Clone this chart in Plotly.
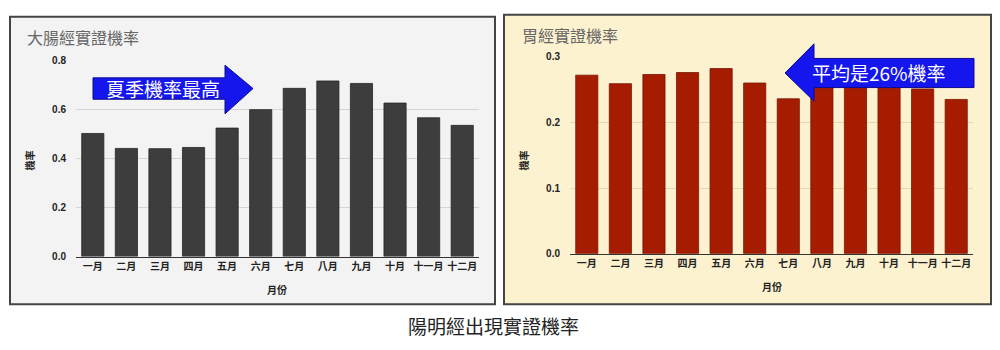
import plotly.graph_objects as go

months = ["一月", "二月", "三月", "四月", "五月", "六月", "七月", "八月", "九月", "十月", "十一月", "十二月"]
colon_rate = [0.502, 0.441, 0.440, 0.445, 0.524, 0.599, 0.686, 0.716, 0.706, 0.626, 0.566, 0.535]
stomach_rate = [0.272, 0.259, 0.273, 0.276, 0.282, 0.260, 0.236, 0.256, 0.262, 0.262, 0.251, 0.235]

left_title = "大腸經實證機率"
right_title = "胃經實證機率"
left_note = "夏季機率最高"
right_note = "平均是26%機率"
caption = "陽明經出現實證機率"
x_title = "月份"
y_title = "機率"

W, H = 1000, 350
FONT = "Liberation Sans, Arial, Noto Sans CJK TC, sans-serif"
CJK = "Noto Sans CJK TC, sans-serif"


def px(x):
    return x / W


def py(y):
    return 1 - y / H


def path(points):
    s = "M " + " L ".join(f"{px(x):.5f},{py(y):.5f}" for x, y in points) + " Z"
    return s


fig = go.Figure()
fig.add_trace(go.Bar(x=months, y=colon_rate, xaxis="x", yaxis="y",
                     marker=dict(color="#3d3d3d", line=dict(color="#262626", width=0.8)),
                     showlegend=False))
fig.add_trace(go.Bar(x=months, y=stomach_rate, xaxis="x2", yaxis="y2",
                     marker=dict(color="#a61c00", line=dict(color="#7a1400", width=0.8)),
                     showlegend=False))

tickfont = dict(family=FONT, size=10, color="#222222", weight="bold")

shapes = [
    # panel backgrounds
    dict(type="rect", xref="paper", yref="paper", x0=px(10), x1=px(495), y0=py(308), y1=py(12),
         fillcolor="#f3f3f3", line=dict(color="#444444", width=2), layer="below"),
    dict(type="rect", xref="paper", yref="paper", x0=px(504), x1=px(991), y0=py(308), y1=py(10),
         fillcolor="#fdf2d0", line=dict(color="#444444", width=2), layer="below"),
    # arrows
    dict(type="path", xref="paper", yref="paper",
         path=path([(93, 75), (225, 75), (225, 62), (253, 86), (225, 112), (225, 97), (93, 97)]),
         fillcolor="#1515ee", line=dict(color="#0a0a90", width=1), layer="above"),
    dict(type="path", xref="paper", yref="paper",
         path=path([(974, 55), (814, 55), (814, 40), (785, 70), (814, 99), (814, 85), (974, 85)]),
         fillcolor="#1515ee", line=dict(color="#0a0a90", width=1), layer="above"),
]

annotations = [
    dict(text=left_title, x=px(25), y=py(33), xref="paper", yref="paper", xanchor="left", yanchor="middle",
         showarrow=False, font=dict(family=CJK, size=16, color="#666666")),
    dict(text=right_title, x=px(520), y=py(31), xref="paper", yref="paper", xanchor="left", yanchor="middle",
         showarrow=False, font=dict(family=CJK, size=16, color="#666666")),
    dict(text=left_note, x=px(163), y=py(86), xref="paper", yref="paper", xanchor="center", yanchor="middle",
         showarrow=False, font=dict(family=CJK, size=19, color="#ffffff")),
    dict(text=right_note, x=px(879), y=py(70), xref="paper", yref="paper", xanchor="center", yanchor="middle",
         showarrow=False, font=dict(family=CJK, size=19, color="#ffffff")),
    dict(text=caption, x=px(493), y=py(330), xref="paper", yref="paper", xanchor="center", yanchor="middle",
         showarrow=False, font=dict(family=CJK, size=19, color="#222222")),
    dict(text=x_title, x=px(277), y=py(293), xref="paper", yref="paper", xanchor="center", yanchor="middle",
         showarrow=False, font=dict(family=CJK, size=10, color="#222222", weight="bold")),
    dict(text=x_title, x=px(772), y=py(290), xref="paper", yref="paper", xanchor="center", yanchor="middle",
         showarrow=False, font=dict(family=CJK, size=10, color="#222222", weight="bold")),
    dict(text=y_title, x=px(29), y=py(160), xref="paper", yref="paper", xanchor="center", yanchor="middle",
         textangle=-90, showarrow=False, font=dict(family=CJK, size=10, color="#222222", weight="bold")),
    dict(text=y_title, x=px(523), y=py(160), xref="paper", yref="paper", xanchor="center", yanchor="middle",
         textangle=-90, showarrow=False, font=dict(family=CJK, size=10, color="#222222", weight="bold")),
]

fig.update_layout(
    width=W, height=H,
    margin=dict(l=0, r=0, t=0, b=0),
    paper_bgcolor="#ffffff",
    plot_bgcolor="rgba(0,0,0,0)",
    bargap=0.34,
    shapes=shapes,
    annotations=annotations,
    xaxis=dict(domain=[px(76), px(479)], anchor="y", showline=True, linecolor="#333333", linewidth=1,
               showgrid=False, ticks="", tickfont=tickfont, fixedrange=True),
    yaxis=dict(domain=[py(259), py(57)], anchor="x", range=[0, 0.8], dtick=0.2, tickformat=".1f",
               showgrid=True, gridcolor="#d4d4d4", gridwidth=1, zeroline=False, showline=False,
               ticks="", tickfont=tickfont, ticklabelstandoff=9),
    xaxis2=dict(domain=[px(570), px(973)], anchor="y2", showline=True, linecolor="#333333", linewidth=1,
                showgrid=False, ticks="", tickfont=tickfont),
    yaxis2=dict(domain=[py(256), py(53.3)], anchor="x2", range=[0, 0.3], dtick=0.1, tickformat=".1f",
                showgrid=True, gridcolor="#e2d8b4", gridwidth=1, zeroline=False, showline=False,
                ticks="", tickfont=tickfont, ticklabelstandoff=9),
)

fig.write_html("out.html")
